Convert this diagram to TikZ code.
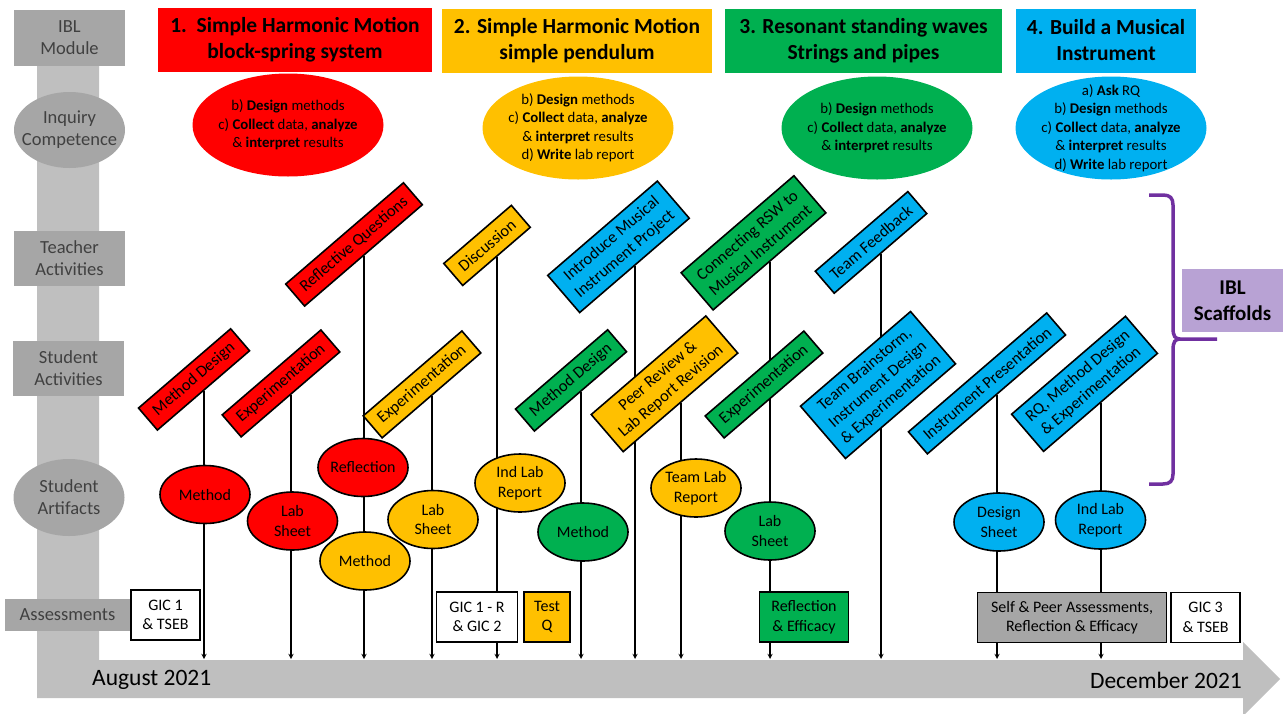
\documentclass[tikz,border=0pt]{standalone}
\usepackage{fontspec}
\setmainfont{Carlito}
\usetikzlibrary{shapes.geometric,positioning}

\definecolor{shmred}{RGB}{255,0,0}
\definecolor{shmamber}{RGB}{255,192,0}
\definecolor{rswgreen}{RGB}{0,176,80}
\definecolor{mibblue}{RGB}{0,176,240}
\definecolor{rowgray}{RGB}{166,166,166}
\definecolor{bargray}{RGB}{191,191,191}
\definecolor{scafpurple}{RGB}{112,48,160}
\definecolor{scaflilac}{RGB}{184,162,212}

\pgfdeclarelayer{background}
\pgfsetlayers{background,main}

\begin{document}
\begin{tikzpicture}[x=1pt,y=-1pt]

\tikzset{%
every node/.style={align=center, inner sep=0pt},%
timelink/.style={->, >=stealth, line width=1.3pt}%
}

\tikzstyle{rowlabel}=[fill=rowgray, text=black!75, minimum width=111pt, font=\fontsize{18.5}{22}\selectfont]
\tikzstyle{module}=[minimum height=64pt, font=\bfseries\fontsize{21.5}{26}\selectfont]
\tikzstyle{competence}=[ellipse, minimum width=191pt, minimum height=103pt, inner sep=-10pt, font=\fontsize{14.8}{18.5}\selectfont]
\tikzstyle{act}=[draw, line width=1.6pt, rotate=40.7, inner xsep=9.5pt, inner ysep=6pt, minimum height=29pt, font=\fontsize{16.5}{20}\selectfont]
\tikzstyle{artifact}=[ellipse, draw, line width=1.6pt, minimum width=90pt, minimum height=58pt, inner sep=-4pt, font=\fontsize{16}{19.5}\selectfont]
\tikzstyle{assess}=[draw, line width=1.6pt, minimum height=50pt, font=\fontsize{16}{19.5}\selectfont]
\tikzstyle{scaffold}=[fill=scaflilac, minimum width=101pt, minimum height=63pt, font=\bfseries\fontsize{21}{26}\selectfont]

\useasboundingbox (0,0) rectangle (1284,713);

% gray time axis
\begin{pgfonlayer}{background}
\fill[bargray] (37,40) -- (99,40) -- (99,660) -- (1243,660) -- (1243,642) -- (1280,679)
  -- (1243,716) -- (1243,698) -- (37,698) -- cycle;
\end{pgfonlayer}
\coordinate (tl) at (0,659);

% row labels
\node[rowlabel, minimum height=56pt] (ibl) at (69.5,38) {IBL\\Module};
\node[rowlabel, ellipse, minimum height=76pt, inner sep=-10pt] (inq) at (69.5,130) {Inquiry\\Competence};
\node[rowlabel, minimum height=55pt] (tact) at (69.5,258.5) {Teacher\\Activities};
\node[rowlabel, minimum height=55pt] (sact) at (68.5,368.5) {Student\\Activities};
\node[rowlabel, ellipse, minimum height=77pt, inner sep=-10pt] (sart) at (69,497.5) {Student\\Artifacts};
\node[rowlabel, minimum width=125pt, minimum height=32pt] (asmt) at (67.5,615) {Assessments};

% modules
\node[module, fill=shmred, minimum width=274pt] (m1) at (295,40) {1.\ \ Simple Harmonic Motion\\block-spring system};
\node[module, fill=shmamber, minimum width=270pt] (m2) at (577,40.5) {2. Simple Harmonic Motion\\simple pendulum};
\node[module, fill=rswgreen, minimum width=277pt] (m3) at (863.5,41) {3. Resonant standing waves\\Strings and pipes};
\node[module, fill=mibblue, minimum width=180pt] (m4) at (1106,40.5) {4. Build a Musical\\Instrument};

% inquiry competence
\node[competence, fill=shmred] (c1) at (288,125) {b) \textbf{Design} methods\\c) \textbf{Collect} data, \textbf{analyze}\\\& \textbf{interpret} results};
\node[competence, fill=shmamber] (c2) at (578,128) {b) \textbf{Design} methods\\c) \textbf{Collect} data, \textbf{analyze}\\\& \textbf{interpret} results\\d) \textbf{Write} lab report};
\node[competence, fill=rswgreen] (c3) at (877,128) {b) \textbf{Design} methods\\c) \textbf{Collect} data, \textbf{analyze}\\\& \textbf{interpret} results};
\node[competence, fill=mibblue] (c4) at (1111,128) {a) \textbf{Ask} RQ\\b) \textbf{Design} methods\\c) \textbf{Collect} data, \textbf{analyze}\\\& \textbf{interpret} results\\d) \textbf{Write} lab report};

% teacher and student activities
\node[act, fill=shmred, anchor=south] (rmd) at (204,391) {Method Design};
\node[act, fill=shmred, anchor=south] (rexp) at (291,395) {Experimentation};
\node[act, fill=shmred, anchor=south] (rq) at (364,256) {Reflective Questions};
\node[act, fill=shmamber, anchor=south] (aexp) at (432,396) {Experimentation};
\node[act, fill=shmamber, anchor=south] (disc) at (497,257) {Discussion};
\node[act, fill=rswgreen, anchor=south] (gmd) at (581,392) {Method Design};
\node[act, fill=mibblue, anchor=south, minimum height=49pt] (intro) at (635,266) {Introduce Musical\\Instrument Project};
\node[act, fill=shmamber, anchor=south, minimum height=49pt] (peer) at (681,403) {Peer Review \&\\Lab Report Revision};
\node[act, fill=rswgreen, anchor=south, minimum height=49pt] (rsw) at (770,262) {Connecting RSW to\\Musical Instrument};
\node[act, fill=rswgreen] (gexp) at (764,384.5) {Experimentation};
\node[act, fill=mibblue, anchor=south] (feed) at (881,254) {Team Feedback};
\node[act, fill=mibblue, minimum height=69pt] (brain) at (878,385) {Team Brainstorm,\\Instrument Design\\\& Experimentation};
\node[act, fill=mibblue, anchor=south] (pres) at (997,395) {Instrument Presentation};
\node[act, fill=mibblue, anchor=south, minimum height=49pt] (rqexp) at (1101,403) {RQ, Method Design\\\& Experimentation};

% student artifacts
\node[artifact, fill=shmred] (rmeth) at (205,494.5) {Method};
\node[artifact, fill=shmred] (rlab) at (292.5,521) {Lab\\Sheet};
\node[artifact, fill=shmred] (refl) at (363,467.5) {Reflection};
\node[artifact, fill=shmamber] (ameth) at (365,561) {Method};
\node[artifact, fill=shmamber] (alab) at (433,519.5) {Lab\\Sheet};
\node[artifact, fill=shmamber] (arep) at (520,483) {Ind Lab\\Report};
\node[artifact, fill=rswgreen] (gmeth) at (583,532) {Method};
\node[artifact, fill=shmamber] (trep) at (696,488) {Team Lab\\Report};
\node[artifact, fill=rswgreen] (glab) at (770,531) {Lab\\Sheet};
\node[artifact, fill=mibblue] (dsheet) at (999,522) {Design\\Sheet};
\node[artifact, fill=mibblue] (brep) at (1100.5,520) {Ind Lab\\Report};

% assessments
\node[assess, fill=white, minimum width=69pt] (gic1) at (165.5,615) {GIC 1\\\& TSEB};
\node[assess, fill=white, minimum width=81pt] (gic2) at (477,617) {GIC 1 - R\\\& GIC 2};
\node[assess, fill=shmamber, minimum width=46pt, right=5pt of gic2] (testq) {Test\\Q};
\node[assess, fill=rswgreen, minimum width=89pt] (effic) at (804,617) {Reflection\\\& Efficacy};
\node[assess, fill=rowgray, minimum width=189pt] (selfpeer) at (1072,617.5) {Self \& Peer Assessments,\\Reflection \& Efficacy};
\node[assess, fill=white, minimum width=69pt, right=3pt of selfpeer] (gic3) {GIC 3\\\& TSEB};

% dates
\node[anchor=west, font=\fontsize{23.5}{28}\selectfont] (aug) at (92,680) {August 2021};
\node[anchor=east, font=\fontsize{23.5}{28}\selectfont] (dec) at (1242,680) {December 2021};

% IBL scaffolds
\node[scaffold] (ibls) at (1232.5,300.5) {IBL\\Scaffolds};
\draw[scafpurple, line width=3.5pt] (1149,195) -- (1163,195) .. controls (1170,195) and (1173,198) .. (1173,205)
  -- (1173,328) .. controls (1173,336) and (1175,339) .. (1180,339) -- (1217,339);
\draw[scafpurple, line width=3.5pt] (1180,339) .. controls (1175,339) and (1173,342) .. (1173,350)
  -- (1173,474) .. controls (1173,481) and (1170,484) .. (1163,484) -- (1149,484);

% links to the time axis
\begin{pgfonlayer}{background}
\draw[timelink] (rmd.south) -- (rmd.south |- tl);
\draw[timelink] (rexp.south) -- (rexp.south |- tl);
\draw[timelink] (rq.south) -- (rq.south |- tl);
\draw[timelink] (aexp.south) -- (aexp.south |- tl);
\draw[timelink] (disc.south) -- (disc.south |- tl);
\draw[timelink] (gmd.south) -- (gmd.south |- tl);
\draw[timelink] (intro.south) -- (intro.south |- tl);
\draw[timelink] (peer.south) -- (peer.south |- tl);
\draw[timelink] (rsw.south) -- (rsw.south |- tl);
\draw[timelink] (feed.south) -- (feed.south |- tl);
\draw[timelink] (pres.south) -- (pres.south |- tl);
\draw[timelink] (rqexp.south) -- (rqexp.south |- tl);
\end{pgfonlayer}

\end{tikzpicture}
\end{document}
